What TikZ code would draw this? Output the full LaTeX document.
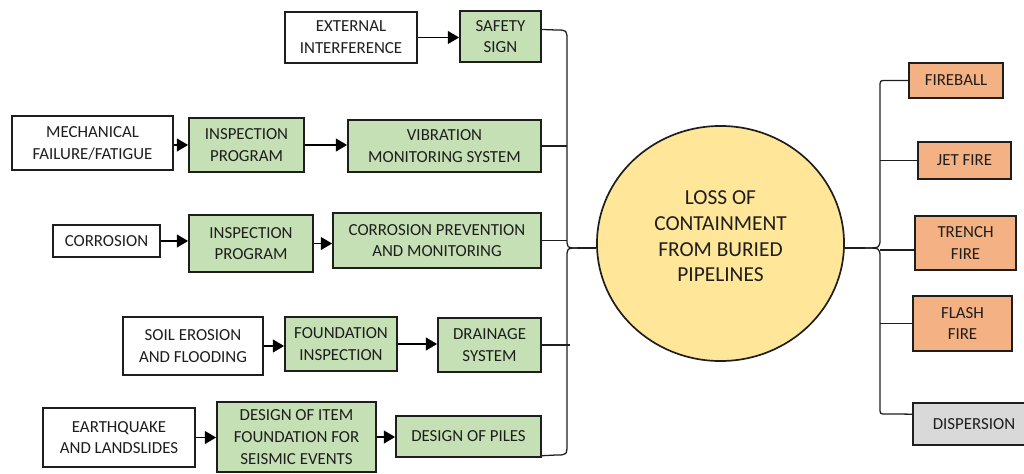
\documentclass[tikz,border=0pt]{standalone}
\usepackage{fontspec}
\setmainfont{Carlito}
\usetikzlibrary{arrows.meta, shapes.geometric, positioning}

\definecolor{boxgreen}{RGB}{197,224,180}
\definecolor{boxorange}{RGB}{244,177,131}
\definecolor{boxgrey}{RGB}{217,217,217}
\definecolor{coreyellow}{RGB}{255,230,153}
\definecolor{inkgrey}{RGB}{30,30,30}

\begin{document}
\begin{tikzpicture}[
    x = 0.025cm, y = -0.025cm,
    every node/.style = {
      font = \fontsize{12}{15.5}\selectfont,
      text = inkgrey,
      align = center,
      inner sep = 0pt,
    },
    threat/.style  = {draw = inkgrey, line width = 1.2pt, fill = white, rectangle},
    barrier/.style = {draw = inkgrey, line width = 1.2pt, fill = boxgreen, rectangle},
    outcome/.style = {draw = inkgrey, line width = 1.2pt, fill = boxorange, rectangle},
    spread/.style  = {draw = inkgrey, line width = 1.2pt, fill = boxgrey, rectangle},
    topevent/.style = {draw = inkgrey, line width = 1.2pt, fill = coreyellow, ellipse},
    flow/.style = {-{Triangle[length = 8pt, width = 9pt]}, line width = 1.4pt, draw = black},
    link/.style = {line width = 0.9pt, draw = inkgrey},
  ]
  \clip (0,0) rectangle (1024,473);

  % threats and barriers
  \node [threat, minimum width = 3.3cm, minimum height = 1.275cm]
    (ext) at (351,37.5) {EXTERNAL\\INTERFERENCE};
  \node [barrier, minimum width = 2.025cm, minimum height = 1.275cm]
    (safety) at (500.5,36.5) {SAFETY\\SIGN};

  \node [threat, minimum width = 4.025cm, minimum height = 1.35cm]
    (mech) at (92.5,143) {MECHANICAL\\FAILURE/FATIGUE};
  \node [barrier, minimum width = 2.875cm, minimum height = 1.35cm]
    (insp1) at (246.5,145) {INSPECTION\\PROGRAM};
  \node [barrier, minimum width = 4.825cm, minimum height = 1.3cm]
    (vib) at (444.5,146) {VIBRATION\\MONITORING SYSTEM};

  \node [threat, minimum width = 2.675cm, minimum height = 0.8cm]
    (corr) at (106.5,241) {CORROSION};
  \node [barrier, minimum width = 3.1cm, minimum height = 1.425cm]
    (insp2) at (251,243.5) {INSPECTION\\PROGRAM};
  \node [barrier, minimum width = 5.2cm, minimum height = 1.375cm]
    (cpm) at (437,240.5) {CORROSION PREVENTION\\AND MONITORING};

  \node [threat, minimum width = 3.5cm, minimum height = 1.45cm]
    (soil) at (193,346) {SOIL EROSION\\AND FLOODING};
  \node [barrier, minimum width = 2.8cm, minimum height = 1.35cm]
    (found) at (341,344) {FOUNDATION\\INSPECTION};
  \node [barrier, minimum width = 2.575cm, minimum height = 1.35cm]
    (drain) at (489.5,345) {DRAINAGE\\SYSTEM};

  \node [threat, minimum width = 3.8cm, minimum height = 1.475cm]
    (quake) at (119,437.5) {EARTHQUAKE\\AND LANDSLIDES};
  \node [barrier, minimum width = 3.975cm, minimum height = 1.75cm]
    (design) at (296.5,437) {DESIGN OF ITEM\\FOUNDATION FOR\\SEISMIC EVENTS};
  \node [barrier, minimum width = 3.625cm, minimum height = 1.025cm]
    (piles) at (468.5,436.5) {DESIGN OF PILES};

  % top event
  \node [topevent, minimum width = 6.175cm, minimum height = 5.875cm]
    (loss) at (720.5,243.5) {};
  \node [font = \fontsize{15.2}{18.2}\selectfont]
    (losstext) at ([yshift=5pt]loss.center) {LOSS OF\\CONTAINMENT\\FROM BURIED\\PIPELINES};

  % consequences
  \node [outcome, minimum width = 2.35cm, minimum height = 0.875cm]
    (fireball) at (956,80.5) {FIREBALL};
  \node [outcome, minimum width = 2.325cm, minimum height = 0.925cm]
    (jet) at (964.5,160.5) {JET FIRE};
  \node [outcome, minimum width = 2.525cm, minimum height = 1.35cm]
    (trench) at (965.5,243) {TRENCH\\FIRE};
  \node [outcome, minimum width = 2.475cm, minimum height = 1.375cm]
    (flash) at (962.5,323.5) {FLASH\\FIRE};
  \node [spread, minimum width = 3.05cm, minimum height = 1.05cm]
    (disp) at (974,424) {DISPERSION};

  % arrows along each threat line
  \draw [flow] (ext.east) -- (ext.east -| safety.west);
  \draw [flow] (mech.east |- insp1.west) -- (insp1.west);
  \draw [flow] (insp1.east) -- (insp1.east -| vib.west);
  \draw [flow] (corr.east) -- (corr.east -| insp2.west);
  \draw [flow] (insp2.east) -- (insp2.east -| cpm.west);
  \draw [flow] (soil.east) -- (soil.east -| found.west);
  \draw [flow] (found.east) -- (found.east -| drain.west);
  \draw [flow] (quake.east) -- (quake.east -| design.west);
  \draw [flow] (design.east) -- (design.east -| piles.west);

  % left brace
  \coordinate (lbar) at (567,0);
  \coordinate (ltip) at (577,248);
  \draw [link] ([yshift=5pt]safety.east) -- (556,30) .. controls (567,30) .. (567,41)
    -- (567,238) .. controls (567,248) .. (ltip);
  \draw [link] (ltip) .. controls (567,248) .. (567,258)
    -- (567,443) .. controls (567,455) .. (556,455) -- ([yshift=1.5pt]piles.south east);
  \draw [link] (vib.east) -- (vib.east -| lbar);
  \draw [link] (cpm.east) -- (cpm.east -| lbar);
  \draw [link] (drain.east) -- ([xshift=2pt]drain.east -| lbar);
  \draw [link] (ltip) -- (ltip -| loss.west);

  % right brace
  \coordinate (rbar) at (880,0);
  \coordinate (rtip) at (865,248);
  \draw [link] (fireball.west) -- (886,80.5) .. controls (880,80.5) .. (880,87)
    -- (880,238) .. controls (880,248) .. (rtip);
  \draw [link] (rtip) .. controls (880,248) .. (880,258)
    -- (880,408) .. controls (880,414) .. (886,414) -- ([yshift=7pt]disp.west);
  \draw [link] (jet.west) -- (jet.west -| rbar);
  \draw [link] ([yshift=-5pt]trench.west) -- ([yshift=-5pt]trench.west -| rbar);
  \draw [link] (flash.west) -- (flash.west -| rbar);
  \draw [link] (rtip) -- (rtip -| loss.east);
\end{tikzpicture}
\end{document}
